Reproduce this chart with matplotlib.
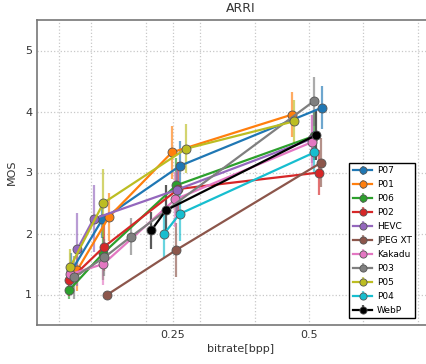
import matplotlib
matplotlib.use("Agg")
import matplotlib.pyplot as plt

# bitrate / MOS / error-bar half-widths per codec
names = ["P07", "P01", "P06", "P02", "HEVC", "JPEG XT", "Kakadu", "P03", "P05", "P04", "WebP"]
colors = ["#1f77b4", "#ff7f0e", "#2ca02c", "#d62728", "#9467bd", "#8c564b",
          "#e377c2", "#7f7f7f", "#bcbd22", "#17becf", "black"]

p07_x = [0.063, 0.120, 0.263, 0.523]
p07_y = [1.38, 2.23, 3.11, 4.06]
p07_e = [0.30, 0.30, 0.40, 0.35]

p01_x = [0.074, 0.132, 0.248, 0.469]
p01_y = [1.40, 2.27, 3.33, 3.95]
p01_e = [0.35, 0.40, 0.43, 0.37]

p06_x = [0.059, 0.122, 0.256, 0.510]
p06_y = [1.07, 1.68, 2.79, 3.60]
p06_e = [0.15, 0.45, 0.45, 0.40]

p02_x = [0.059, 0.123, 0.260, 0.519]
p02_y = [1.23, 1.78, 2.73, 3.00]
p02_e = [0.25, 0.40, 0.45, 0.37]

hevc_x = [0.074, 0.104, 0.258, 0.505]
hevc_y = [1.74, 2.24, 2.72, 3.55]
hevc_e = [0.60, 0.55, 0.40, 0.40]

jxt_x = [0.128, 0.256, 0.522]
jxt_y = [0.99, 1.73, 3.16]
jxt_e = [0.0, 0.45, 0.40]

kak_x = [0.060, 0.122, 0.254, 0.506]
kak_y = [1.33, 1.50, 2.56, 3.50]
kak_e = [0.20, 0.35, 0.45, 0.45]

p03_x = [0.068, 0.124, 0.173, 0.509]
p03_y = [1.28, 1.61, 1.95, 4.17]
p03_e = [0.35, 0.30, 0.30, 0.40]

p05_x = [0.061, 0.122, 0.274, 0.473]
p05_y = [1.45, 2.50, 3.39, 3.84]
p05_e = [0.30, 0.55, 0.40, 0.35]

p04_x = [0.234, 0.262, 0.510]
p04_y = [2.00, 2.32, 3.33]
p04_e = [0.40, 0.45, 0.35]

webp_x = [0.210, 0.237, 0.512]
webp_y = [2.05, 2.38, 3.61]
webp_e = [0.31, 0.42, 0.40]

xs = [p07_x, p01_x, p06_x, p02_x, hevc_x, jxt_x, kak_x, p03_x, p05_x, p04_x, webp_x]
ys = [p07_y, p01_y, p06_y, p02_y, hevc_y, jxt_y, kak_y, p03_y, p05_y, p04_y, webp_y]
es = [p07_e, p01_e, p06_e, p02_e, hevc_e, jxt_e, kak_e, p03_e, p05_e, p04_e, webp_e]

fig = plt.figure(figsize=(4.27, 3.64), dpi=100)
ax = fig.add_axes([37/427, 39/364, 408/427, 305/364])

for i in range(len(names)):
    c = ax.errorbar(xs[i], ys[i], yerr=es[i], color=colors[i], marker="o", markersize=6.5,
                    markeredgecolor="#555555", markeredgewidth=0.6, linewidth=1.6,
                    elinewidth=1.6, capsize=0, label=names[i])
    for b in c[2]:
        b.set_alpha(0.65)

ax.set_xlim(0, 0.75)
ax.set_ylim(0.5, 5.5)
ax.set_xticks([0.25, 0.5])
ax.set_xticklabels(["0.25", "0.5"])
ax.set_xticks([0.04, 0.1, 0.2, 0.3, 0.4, 0.6, 0.7], minor=True)
ax.set_yticks([1, 2, 3, 4, 5])
ax.grid(True, which="both", linestyle=":", color="#c8c8c8", linewidth=0.9)
ax.tick_params(which="both", length=0, labelsize=8, colors="#333333")
for s in ax.spines.values():
    s.set_color("#777777")
    s.set_linewidth(1.2)

ax.set_xlabel("bitrate[bpp]", fontsize=8, color="#333333", labelpad=3)
ax.set_ylabel("MOS", fontsize=8, color="#333333", labelpad=6)
ax.set_title("ARRI", fontsize=9, color="#333333", pad=6)

ax.legend(loc="lower right", bbox_to_anchor=(420/427, 41/364), bbox_transform=fig.transFigure,
          fontsize=6.5, fancybox=False, edgecolor="black", framealpha=1,
          handlelength=2.2, labelspacing=0.55, borderpad=0.4, handletextpad=0.5,
          markerscale=0.8)

plt.savefig("out.png", dpi=100)
